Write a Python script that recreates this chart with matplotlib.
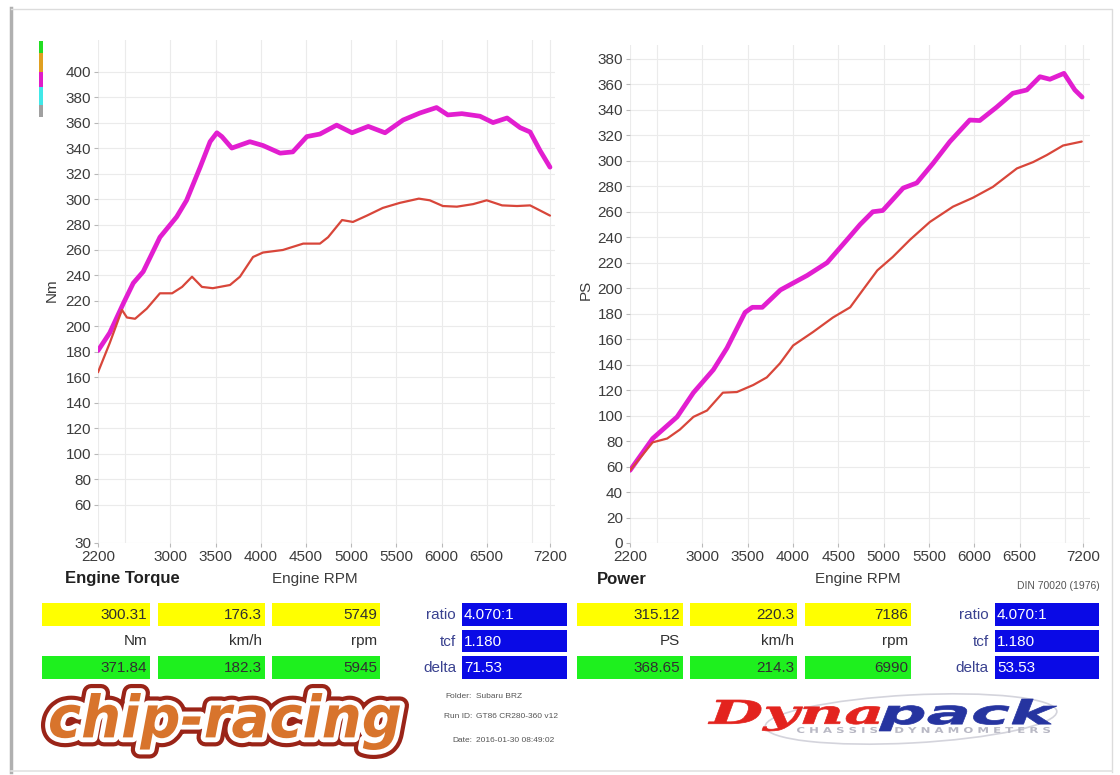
import matplotlib
matplotlib.use('Agg')
import matplotlib.pyplot as plt
from matplotlib.patches import Rectangle, PathPatch, Ellipse
from matplotlib.textpath import TextPath
from matplotlib.font_manager import FontProperties
from matplotlib.transforms import Affine2D

# ---------------- data ----------------
torque_tuned_rpm = [2200, 2330, 2480, 2590, 2700, 2885, 3070, 3180, 3330, 3440, 3515, 3570, 3680,
                    3880, 4025, 4215, 4355, 4510, 4655, 4840, 5010, 5190, 5375, 5575, 5760, 5945,
                    6070, 6225, 6425, 6570, 6725, 6870, 6980, 7090, 7200]
torque_tuned_nm = [181, 195, 218, 234, 243, 270, 286, 299, 325, 345, 352, 349, 340,
                   345, 342, 336, 337, 349, 351, 358, 352, 357, 352, 362, 367.5, 371.8,
                   366, 367, 365, 360, 363.6, 356, 352.6, 338, 325]

torque_stock_rpm = [2200, 2330, 2465, 2520, 2610, 2740, 2885, 3020, 3130, 3240, 3350, 3470, 3660,
                    3770, 3915, 4025, 4245, 4470, 4655, 4745, 4900, 5020, 5175, 5350, 5540, 5749,
                    5870, 6015, 6170, 6350, 6500, 6670, 6835, 6980, 7200]
torque_stock_nm = [164, 187, 213, 207, 206, 214, 226, 226, 231, 239, 231, 230, 232.5,
                   239, 254.5, 258, 260, 265, 265, 270, 283.5, 282, 287, 293, 297, 300.3,
                   299, 294.5, 294, 296, 299, 295, 294.5, 295, 287]

power_tuned_rpm = [2200, 2450, 2720, 2900, 3120, 3270, 3470, 3550, 3660, 3860, 4155, 4375, 4595,
                   4740, 4880, 4990, 5215, 5365, 5545, 5730, 5950, 6060, 6245, 6425, 6580, 6725,
                   6835, 6990, 7110, 7190]
power_tuned_ps = [57, 82, 99, 118, 136, 153, 181, 185, 185, 198.6, 210, 220, 238,
                  250, 260, 261, 278.6, 282.6, 298, 315, 332, 331.6, 342, 353, 355.6, 366,
                  364, 368.65, 355.6, 350]

power_stock_rpm = [2200, 2450, 2610, 2750, 2900, 3050, 3225, 3380, 3560, 3710, 3855, 4000, 4220,
                   4440, 4630, 4770, 4930, 5100, 5290, 5510, 5765, 5985, 6205, 6470, 6650, 6800,
                   6980, 7186]
power_stock_ps = [57, 79, 82, 89, 99, 104, 118, 118.5, 124, 130, 141, 155, 165.6,
                  177, 185, 198.6, 214, 224.5, 238, 252, 264, 271, 279.5, 294, 299, 304.5,
                  312, 315.1]

rpm_ticks = [2200, 3000, 3500, 4000, 4500, 5000, 5500, 6000, 6500, 7200]
torque_ticks = [30, 60, 80, 100, 120, 140, 160, 180, 200, 220, 240, 260, 280, 300, 320, 340,
                360, 380, 400]
power_ticks = list(range(0, 381, 20))

torque_stock_vals = ['300.31', '176.3', '5749']
torque_tuned_vals = ['371.84', '182.3', '5945']
torque_units = ['Nm', 'km/h', 'rpm']
power_stock_vals = ['315.12', '220.3', '7186']
power_tuned_vals = ['368.65', '214.3', '6990']
power_units = ['PS', 'km/h', 'rpm']
info_labels = ['ratio', 'tcf', 'delta']
torque_info = ['4.070:1', '1.180', '71.53']
power_info = ['4.070:1', '1.180', '53.53']
legend_colors = ['#22dd22', '#e0a020', '#e01cc8', '#40e8e8', '#a0a0a0']

# ---------------- figure ----------------
W, H = 1120, 775
fig = plt.figure(figsize=(11.2, 7.75), dpi=100)
fig.patch.set_facecolor('white')

def fx(x):
    return x / W

def fy(y):
    return 1 - y / H

FONT = 'Liberation Sans'
TICKC = '#3c3c3c'
MAG = '#e21ed0'
RED = '#d8463a'

ax1 = fig.add_axes([fx(98), fy(543), (555 - 98) / W, (543 - 40) / H])
ax2 = fig.add_axes([fx(630), fy(543), (1090 - 630) / W, (543 - 45) / H])

ax1.set_xlim(2200, 2200 + (555 - 98) / 0.0904)
ax1.set_ylim(30, 30 + (543 - 40) / 1.274)
ax2.set_xlim(2200, 2200 + (1090 - 630) / 0.0906)
ax2.set_ylim(0, (543 - 45) / 1.274)

lk_t = dict(color=MAG, lw=3.4, solid_capstyle='round', solid_joinstyle='round', zorder=3)
lk_s = dict(color=RED, lw=1.6, solid_capstyle='round', solid_joinstyle='round', zorder=4)
ax1.plot(torque_tuned_rpm, torque_tuned_nm, **lk_t)
ax1.plot(torque_stock_rpm, torque_stock_nm, **lk_s)
ax2.plot(power_tuned_rpm, power_tuned_ps, **lk_t)
ax2.plot(power_stock_rpm, power_stock_ps, **lk_s)

for ax, yt in ((ax1, torque_ticks), (ax2, power_ticks)):
    ax.set_xticks(rpm_ticks)
    ax.set_xticks([2500, 7000], minor=True)
    ax.set_yticks(yt)
    ax.grid(True, which='both', color='#ebebeb', lw=0.8)
    ax.set_axisbelow(True)
    for s in ax.spines.values():
        s.set_visible(False)
    ax.tick_params(axis='both', which='major', labelsize=11, labelcolor=TICKC, color='#b8b8b8',
                   length=3, width=0.8, pad=2)
    ax.tick_params(axis='x', which='minor', length=0)
    for lab in ax.get_xticklabels() + ax.get_yticklabels():
        lab.set_fontfamily(FONT)

# ---------------- overlay in pixel coords ----------------
ov = fig.add_axes([0, 0, 1, 1], zorder=5)
ov.set_xlim(0, W)
ov.set_ylim(H, 0)
ov.axis('off')
ov.patch.set_alpha(0)

# frame
ov.plot([11, 11], [8, 772], color='#b0b0b0', lw=2.5)
ov.plot([11, 1112, 1112], [9, 9, 772], color='#dcdcdc', lw=1)
ov.plot([11, 1112], [771, 771], color='#e2e2e2', lw=1.2)

# legend colour strip
seg = [(41, 53), (53, 72), (72, 87), (87, 105), (105, 117)]
for (a, b), c in zip(seg, legend_colors):
    ov.add_patch(Rectangle((38.5, a), 4.5, b - a, facecolor=c, edgecolor='none'))

def t(x, y, s, **kw):
    kw.setdefault('family', FONT)
    ov.text(x, y, s, **kw)

# axis titles
t(52, 290, 'Nm', rotation=90, ha='center', va='center', fontsize=11, color=TICKC)
t(586, 290, 'PS', rotation=90, ha='center', va='center', fontsize=11, color=TICKC)
t(65, 579, 'Engine Torque', ha='left', va='center', fontsize=12, weight='bold', color='#202020')
t(315, 579, 'Engine RPM', ha='center', va='center', fontsize=11, color=TICKC)
t(597, 579, 'Power', ha='left', va='center', fontsize=12, weight='bold', color='#202020')
t(858, 579, 'Engine RPM', ha='center', va='center', fontsize=11, color=TICKC)
t(1100, 586, 'DIN 70020 (1976)', ha='right', va='center', fontsize=7.5, color='#555555')

# tables
def box(x0, x1, y0, y1, c):
    ov.add_patch(Rectangle((x0, y0), x1 - x0, y1 - y0, facecolor=c, edgecolor='none'))

ROWS = [(603, 626), (630, 652), (656, 679)]

def table(cols, top_vals, units, bot_vals, lab_x, blue, info):
    for (x0, x1), v, u, g in zip(cols, top_vals, units, bot_vals):
        box(x0, x1, ROWS[0][0], ROWS[0][1], '#ffff00')
        t(x1 - 3, 615, v, ha='right', va='center', fontsize=11, color='#303030')
        t(x1 - 3, 641, u, ha='right', va='center', fontsize=11, color='#303030')
        box(x0, x1, ROWS[2][0], ROWS[2][1], '#1ef01e')
        t(x1 - 3, 668, g, ha='right', va='center', fontsize=11, color='#303030')
    for (y0, y1), lab, val in zip(ROWS, info_labels, info):
        box(blue[0], blue[1], y0, y1, '#0a0ae6')
        t(lab_x, (y0 + y1) / 2 + 0.5, lab, ha='right', va='center', fontsize=11, color='#3a4290')
        t(blue[0] + 2, (y0 + y1) / 2 + 0.5, val, ha='left', va='center', fontsize=11, color='white')

table([(42, 150), (158, 265), (272, 380)], torque_stock_vals, torque_units, torque_tuned_vals,
      456, (462, 567), torque_info)
table([(577, 683), (690, 797), (805, 911)], power_stock_vals, power_units, power_tuned_vals,
      989, (995, 1099), power_info)

# run info
for y, a, b in ((696, 'Folder:', 'Subaru BRZ'), (716, 'Run ID:', 'GT86 CR280-360 v12'),
                (740, 'Date:', '2016-01-30 08:49:02')):
    t(472, y, a, ha='right', va='center', fontsize=6, color='#555555')
    t(476, y, b, ha='left', va='center', fontsize=6, color='#555555')

# logos via fitted text paths
def fit_path(s, prop, x0, x1, y0, y1):
    tp = TextPath((0, 0), s, size=100, prop=prop)
    bb = tp.get_extents()
    sx = (x1 - x0) / bb.width
    sy = (y1 - y0) / bb.height
    tr = Affine2D().translate(-bb.x0, -bb.y0).scale(sx, -sy).translate(x0, y1)
    return tr.transform_path(tp)

p_chip = fit_path('chip-racing', FontProperties(family='DejaVu Sans', weight='bold', style='oblique'),
                  50, 400, 693, 750)
ov.add_patch(PathPatch(p_chip, facecolor='#9a2418', edgecolor='#9a2418', lw=13, joinstyle='round'))
ov.add_patch(PathPatch(p_chip, facecolor='white', edgecolor='white', lw=7, joinstyle='round'))
ov.add_patch(PathPatch(p_chip, facecolor='#d8742c', edgecolor='none'))

ov.add_patch(Ellipse((911, 719), 292, 48, angle=-3, facecolor='none', edgecolor='#d4d4dc', lw=1.2))
p_dyna = fit_path('Dyna', FontProperties(family='DejaVu Serif', weight='bold', style='italic'),
                  708, 880, 700, 731)
ov.add_patch(PathPatch(p_dyna, facecolor='#e3231e', edgecolor='#e3231e', lw=0.5))
p_pack = fit_path('pack', FontProperties(family='DejaVu Sans', weight='bold', style='oblique'),
                  879, 1057, 699, 731)
ov.add_patch(PathPatch(p_pack, facecolor='#2634a0', edgecolor='#2634a0', lw=0.5))
p_cd = fit_path('C H A S S I S    D Y N A M O M E T E R S',
                FontProperties(family='DejaVu Sans', weight='bold'), 797, 1050, 727, 733)
ov.add_patch(PathPatch(p_cd, facecolor='#b8b8c4', edgecolor='none'))

fig.savefig('out.png', dpi=100, facecolor='white')
